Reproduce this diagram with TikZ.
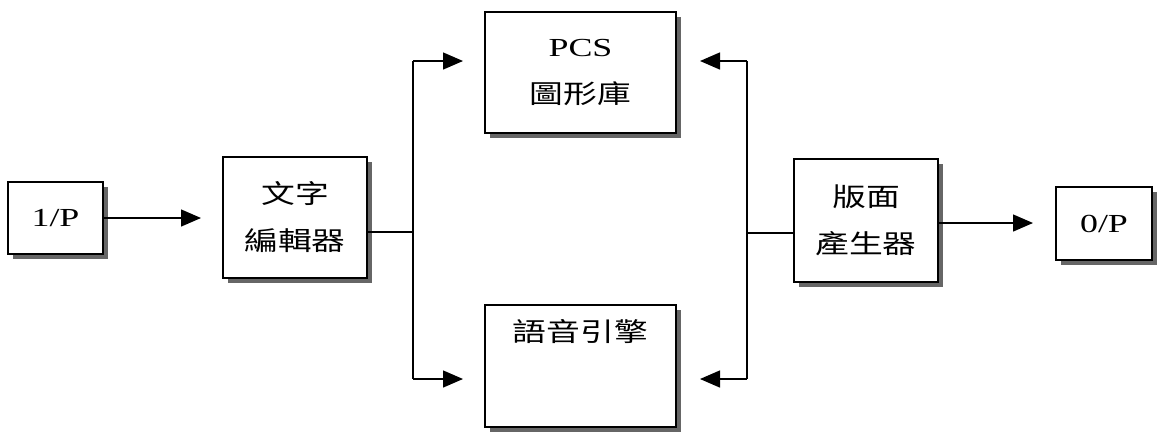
\documentclass[tikz,border=0pt]{standalone}
\usepackage{fontspec}
\setmainfont{Liberation Serif}[FakeStretch=1.38]
\newfontfamily\cjk{Noto Sans CJK TC}[FakeStretch=1.3]
\usetikzlibrary{arrows.meta,shadows}
\begin{document}
\begin{tikzpicture}[x=1pt,y=-1pt,
  blk/.style={draw=black, line width=1.4pt, fill=white, inner sep=0pt,
    drop shadow={shadow xshift=4.5pt, shadow yshift=-4.5pt, fill=black!60, opacity=1},
    font=\fontsize{26}{47}\selectfont, align=center},
  lnk/.style={line width=1.4pt},
  arr/.style={line width=1.4pt, -{Triangle[length=20pt,width=17pt]}},
  lbl/.style={font=\fontsize{26}{47}\selectfont, inner sep=0pt}
]
\useasboundingbox (0,0) rectangle (1165,432);
% boxes
\node[blk, minimum width=95pt, minimum height=72pt] (in) at (55.5,218) {1/P};
\node[blk, minimum width=144pt, minimum height=121pt] (ed) at (295,217.5) {{\cjk 文字}\\{\cjk 編輯器}};
\node[blk, minimum width=191pt, minimum height=121pt] (pcs) at (580.5,72.5) {PCS\\{\cjk 圖形庫}};
\node[blk, minimum width=191pt, minimum height=122pt] (eng) at (580.5,366) {};
\node[lbl] (engt) at (580.5,332) {\cjk 語音引擎};
\node[blk, minimum width=144pt, minimum height=123pt] (pg) at (866,220.5) {{\cjk 版面}\\{\cjk 產生器}};
\node[blk, minimum width=96pt, minimum height=73pt] (out) at (1104,223.5) {0/P};
% junction coordinates
\coordinate (jl) at (413,232);
\coordinate (jlt) at (413,61);
\coordinate (jlb) at (413,379);
\coordinate (jr) at (747,233);
\coordinate (jrt) at (747,61);
\coordinate (jrb) at (747,379);
\coordinate (inEnd) at (201,218);
\coordinate (outEnd) at (1033,223);
% connectors
\draw[arr] (in.east) -- (inEnd);
\draw[lnk] (ed.east |- jl) -- (jl);
\draw[lnk] (jlt) -- (jlb);
\draw[arr] (jlt) -- (463,61);
\draw[arr] (jlb) -- (463,379);
\draw[lnk] (pg.west |- jr) -- (jr);
\draw[lnk] (jrt) -- (jrb);
\draw[arr] (jrt) -- (700,61);
\draw[arr] (jrb) -- (700,379);
\draw[arr] (pg.east |- outEnd) -- (outEnd);
\end{tikzpicture}
\end{document}
